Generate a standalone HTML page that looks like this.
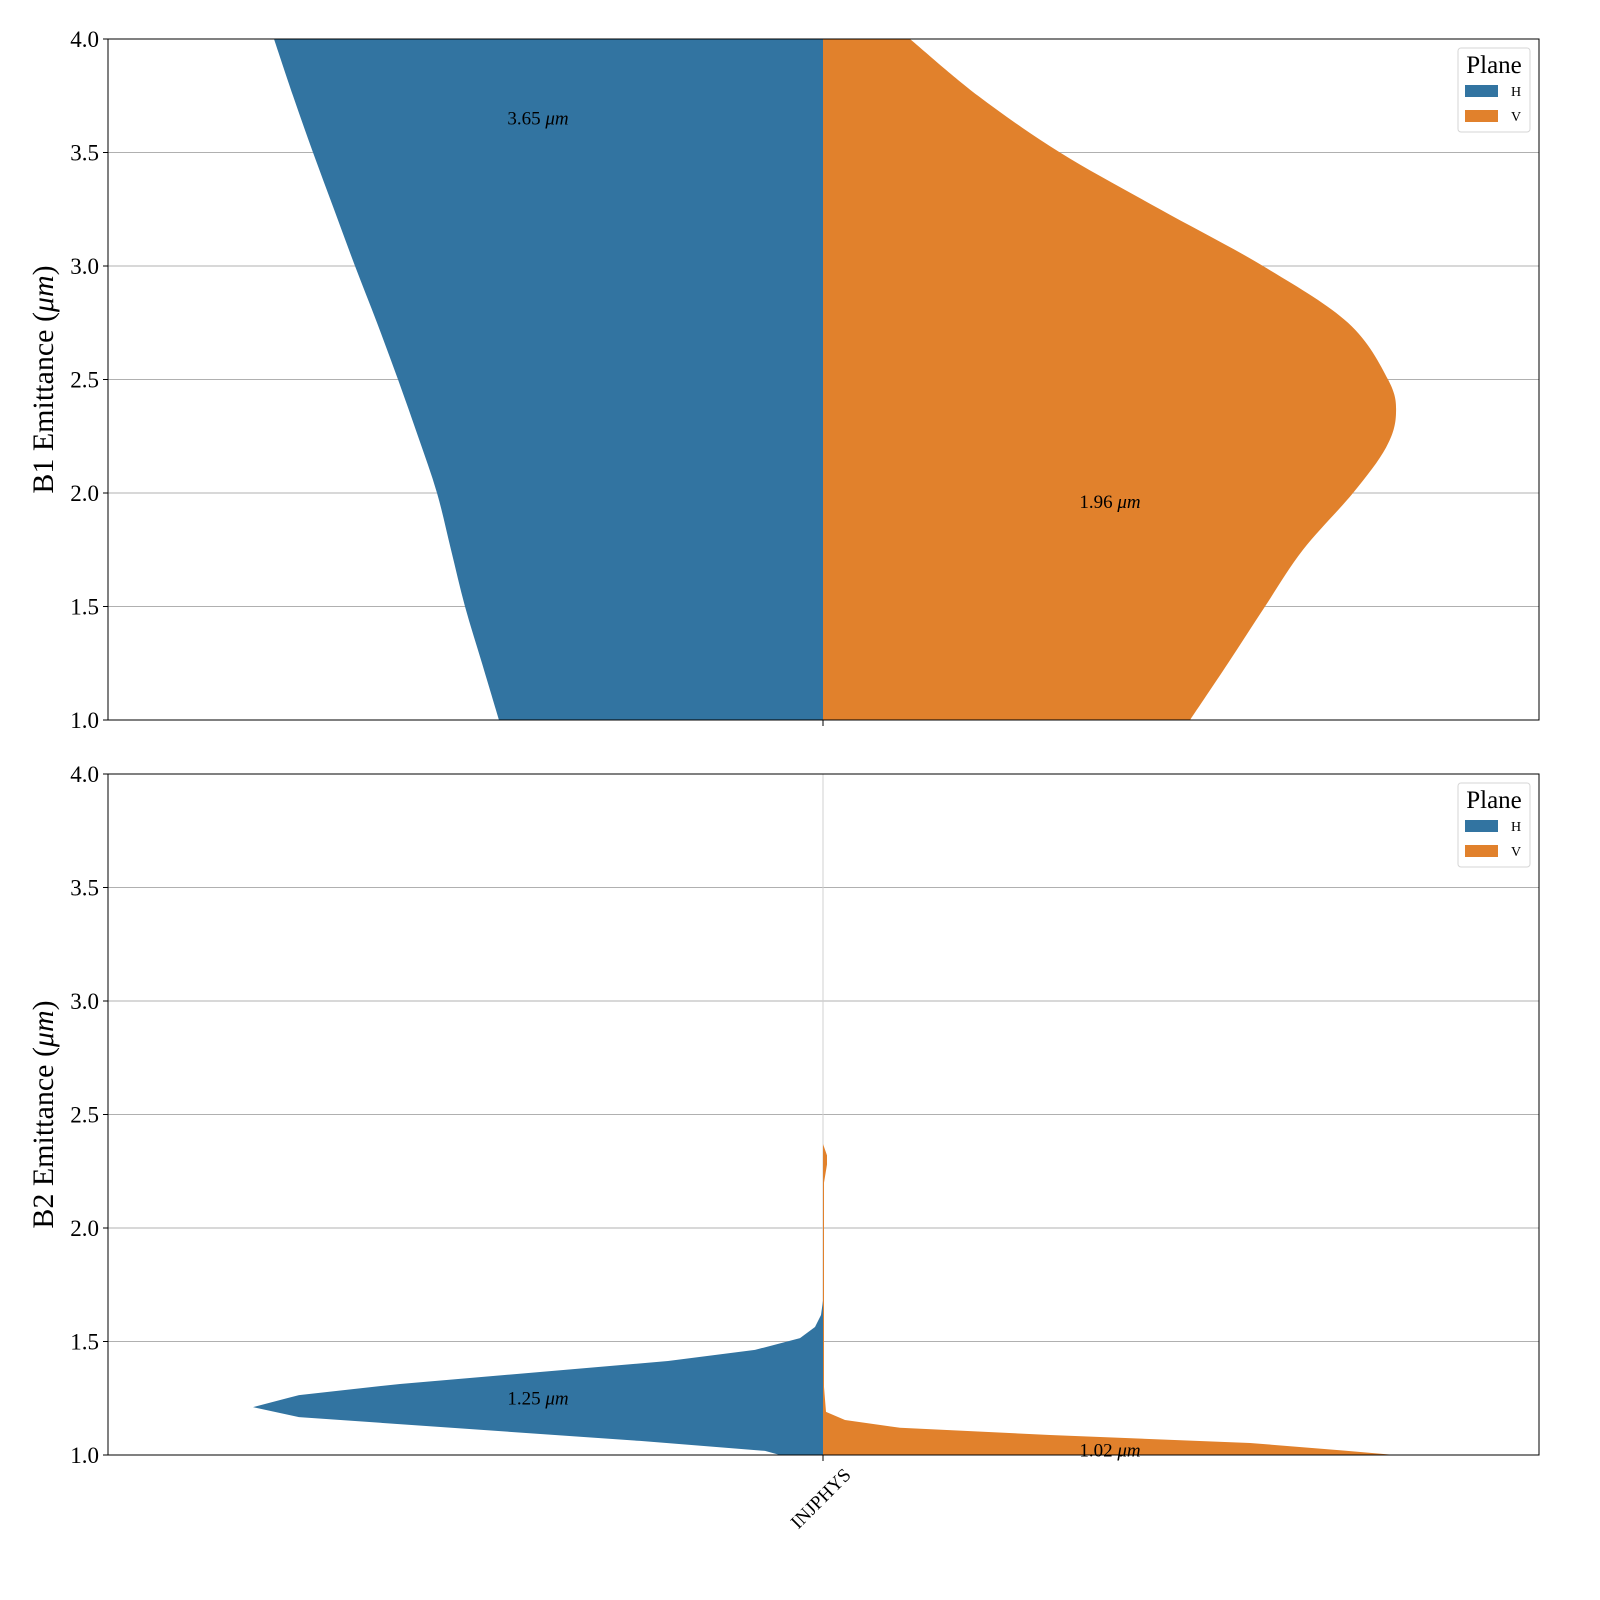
<!DOCTYPE html>
<html><head><meta charset="utf-8"><style>
body{margin:0;background:#fff}
svg{font-family:"Liberation Serif",serif;display:block}
</style></head><body>
<svg id="chart" width="1600" height="1600" viewBox="0 0 1600 1600" xmlns="http://www.w3.org/2000/svg"></svg>
<script>
// Data: [emittance value, density width (px at scale 1)]
const categories = ["INJPHYS"];
const yTicks = [1.0, 1.5, 2.0, 2.5, 3.0, 3.5, 4.0];
const b1H = [[1.0,324],[1.25,341],[1.5,358],[1.75,372],[2.0,386],[2.25,405],[2.5,425],[2.75,446],[3.0,468],[3.25,489],[3.5,510],[3.75,530],[4.0,549]];
const b1V = [[1.0,367],[1.25,405],[1.5,442],[1.75,480],[2.0,530],[2.2,563],[2.35,573],[2.5,565],[2.75,525],[3.0,440],[3.25,337],[3.5,237],[3.75,155],[4.0,87]];
const b2H = [[1.0,43],[1.018,58],[1.062,183],[1.167,524],[1.211,570],[1.264,524],[1.313,423],[1.414,155],[1.463,68],[1.515,23],[1.564,8],[1.617,2],[1.68,0]];
const b2V = [[1.0,572],[1.02,520],[1.053,427],[1.088,227],[1.12,77],[1.154,22],[1.19,3],[1.3,1],[2.2,1],[2.28,4],[2.32,4],[2.37,0]];
const medians = [[3.65,1.96],[1.25,1.02]];
const panelTitles = ["B1 Emittance (","B2 Emittance ("];

const NS="http://www.w3.org/2000/svg";
const svg=document.getElementById('chart');
function mk(tag,attrs,parent){const e=document.createElementNS(NS,tag);for(const k in attrs)e.setAttribute(k,attrs[k]);(parent||svg).appendChild(e);return e;}
const X0=108,X1=1539,CX=823,H=681;
const panels=[{top:39,h:b1H,v:b1V,smooth:true},{top:774,h:b2H,v:b2V,smooth:false}];
panels.forEach((p,i)=>{
  const yS=v=>p.top+H-(v-1)*(H/3);
  const g=mk('g',{});
  
  
  yTicks.forEach(t=>{
    const l=mk('line',{x1:X0,x2:X1,y1:yS(t),y2:yS(t),stroke:'#b0b0b0','stroke-width':1},g);
    
    
    const tx=mk('text',{x:X0-9,y:yS(t)+8,'text-anchor':'end','font-size':23},g);
    tx.textContent=t.toFixed(1);
    
    
    mk('line',{x1:X0-5,x2:X0,y1:yS(t),y2:yS(t),stroke:'#000'},g);
  });
  const vg=mk('line',{x1:CX,x2:CX,y1:p.top,y2:p.top+H,stroke:'#d0d0d0','stroke-width':1},g);
  
  
  const clip=mk('clipPath',{id:'c'+i},g);
  mk('rect',{x:X0,y:p.top,width:X1-X0,height:H},clip);
  function half(arr,dir,col,name,smooth){
    const pts=arr.map(([v,w])=>[CX+dir*w,yS(v)]);
    let d='M'+CX+','+pts[0][1]+' L'+pts[0][0]+','+pts[0][1];
    if(smooth){
      for(let k=0;k<pts.length-1;k++){
        const p0=pts[Math.max(0,k-1)],p1=pts[k],p2=pts[k+1],p3=pts[Math.min(pts.length-1,k+2)];
        const c1=[p1[0]+(p2[0]-p0[0])/6,p1[1]+(p2[1]-p0[1])/6];
        const c2=[p2[0]-(p3[0]-p1[0])/6,p2[1]-(p3[1]-p1[1])/6];
        d+=' C'+c1+' '+c2+' '+p2;
      }
    } else pts.forEach(q=>{d+=' L'+q[0]+','+q[1];});
    d+=' L'+CX+','+pts[pts.length-1][1]+' Z';
    const pa=mk('path',{d:d,fill:col,'clip-path':'url(#c'+i+')'},g);
    
    
  }
  half(p.h,-1,'#3274a1','violin-h',p.smooth);
  half(p.v,1,'#e1812c','violin-v',p.smooth);
  [[538,medians[i][0]],[1110,medians[i][1]]].forEach(([x,v],j)=>{
    const t=mk('text',{x:x,y:yS(v)+6,'text-anchor':'middle','font-size':19},g);
    t.innerHTML=v.toFixed(2)+' <tspan font-style="italic">μm</tspan>';
    
    
  });
  const fr=mk('rect',{x:X0,y:p.top,width:X1-X0,height:H,fill:'none',stroke:'#000','stroke-width':1},g);
  
  
  mk('line',{x1:CX,x2:CX,y1:p.top+H,y2:p.top+H+6,stroke:'#000'},g);
  const yt=mk('text',{transform:'translate(53,'+(p.top+H/2)+') rotate(-90)','text-anchor':'middle','font-size':30},g);
  yt.innerHTML=panelTitles[i]+'<tspan font-style="italic">μm</tspan>)';
  
  
  const lg=mk('g',{},g);
  
  
  mk('rect',{x:1458,y:p.top+9,width:72,height:84,rx:3,fill:'#fff',stroke:'#d6d6d6'},lg);
  const lt=mk('text',{x:1494,y:p.top+34,'text-anchor':'middle','font-size':25},lg);
  lt.textContent='Plane';
  
  
  [['H','#3274a1'],['V','#e1812c']].forEach(([n,c],k)=>{
    const e=mk('g',{},lg);
    
    
    mk('rect',{x:1465,y:p.top+46+k*25,width:33,height:12,fill:c},e);
    const t=mk('text',{x:1511,y:p.top+57+k*25,'font-size':14},e);
    t.textContent=n;
  });
});
const xl=mk('text',{transform:'translate(852,1476) rotate(-45)','text-anchor':'end','font-size':19});
xl.textContent=categories[0];


</script>
</body></html>
